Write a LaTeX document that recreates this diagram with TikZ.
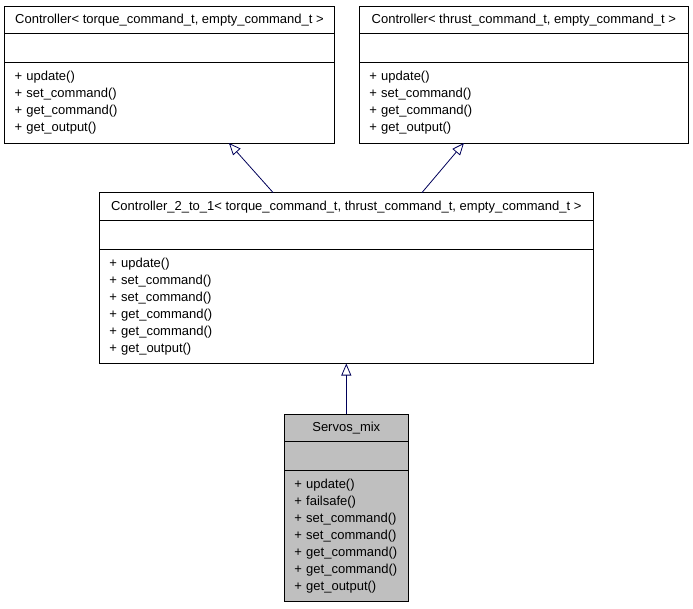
\documentclass[tikz,border=0pt]{standalone}
\usepackage{fontspec}
\setmainfont{Liberation Sans}
\usetikzlibrary{calc,positioning,arrows.meta}

\tikzset{
	part/.style={draw=black, line width=0.9pt, inner sep=0pt, outer sep=0pt, minimum width=#1},
	head/.style={part=#1, minimum height=27pt, align=center},
	blank/.style={part=#1, minimum height=28.5pt},
	meth/.style={part=#1, text width=#1-20pt, inner xsep=10pt, align=left},
	inherit/.style={draw=blue!35!black, line width=0.8pt, -{Triangle[open, length=12pt, width=10pt]}}
}

\begin{document}
\begin{tikzpicture}[x=1pt, y=-1pt, font=\fontsize{13}{17}\selectfont]
		%%%%% START %%%%%
		\useasboundingbox (0, 0) rectangle (693, 608);
		
		% top left base class
		\node[head=330pt, anchor=north west] (torqhead) at (4.5, 6.5) {Controller< torque\_command\_t, empty\_command\_t >};
		\node[blank=330pt, below=0pt of torqhead] (torqattr) {};
		\node[meth=330pt, minimum height=81pt, below=0pt of torqattr] (torqmeth) {+ update()\\+ set\_command()\\+ get\_command()\\+ get\_output()};
		
		% top right base class
		\node[head=329pt, anchor=north west] (thrusthead) at (359.3, 6.5) {Controller< thrust\_command\_t, empty\_command\_t >};
		\node[blank=329pt, below=0pt of thrusthead] (thrustattr) {};
		\node[meth=329pt, minimum height=81pt, below=0pt of thrustattr] (thrustmeth) {+ update()\\+ set\_command()\\+ get\_command()\\+ get\_output()};
		
		% middle class
		\node[head=494pt, minimum height=28pt, anchor=north west] (twohead) at (99.3, 192.7) {Controller\_2\_to\_1< torque\_command\_t, thrust\_command\_t, empty\_command\_t >};
		\node[blank=494pt, below=0pt of twohead] (twoattr) {};
		\node[meth=494pt, minimum height=114.3pt, below=0pt of twoattr] (twometh) {+ update()\\+ set\_command()\\+ set\_command()\\+ get\_command()\\+ get\_command()\\+ get\_output()};
		
		% bottom class
		\node[head=124pt, fill=black!25, minimum height=27.7pt, anchor=north west] (servohead) at (284.3, 414) {Servos\_mix};
		\node[blank=124pt, fill=black!25, below=0pt of servohead] (servoattr) {};
		\node[meth=124pt, fill=black!25, minimum height=131.7pt, below=0pt of servoattr] (servometh) {+ update()\\+ failsafe()\\+ set\_command()\\+ set\_command()\\+ get\_command()\\+ get\_command()\\+ get\_output()};
		
		\draw[inherit] ($(twohead.north west)!0.352!(twohead.north east)$) -- ($(torqmeth.south west)!0.68!(torqmeth.south east)$);
		\draw[inherit] ($(twohead.north west)!0.653!(twohead.north east)$) -- ($(thrustmeth.south west)!0.318!(thrustmeth.south east)$);
		\draw[inherit] (servohead.north) -- (twometh.south);
		%%%%% END %%%%%
\end{tikzpicture}
\end{document}
